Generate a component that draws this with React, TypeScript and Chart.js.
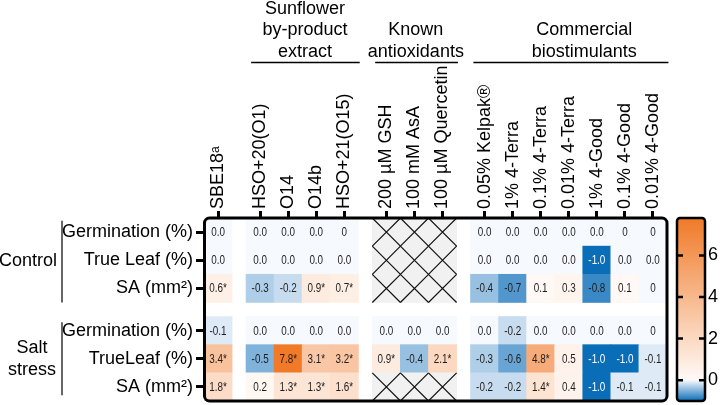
import { useEffect, useRef } from 'react';
import { Chart, registerables } from 'chart.js';

Chart.register(...registerables);

// ---------------- data ----------------
const columnLabels = [
  'SBE18ᵃ', 'HSO+20(O1)', 'O14', 'O14b', 'HSO+21(O15)',
  '200 µM GSH', '100 mM AsA', '100 µM Quercetin',
  '0.05% Kelpak®', '1% 4-Terra', '0.1% 4-Terra', '0.01% 4-Terra', '1% 4-Good', '0.1% 4-Good', '0.01% 4-Good',
];
const columnSlots = [0, 1.5, 2.5, 3.5, 4.5, 6, 7, 8, 9.5, 10.5, 11.5, 12.5, 13.5, 14.5, 15.5];

const rowLabels = ['Germination (%)', 'True Leaf (%)', 'SA (mm²)', 'Germination (%)', 'TrueLeaf (%)', 'SA (mm²)'];
const rowSlots = [0, 1, 2, 3.5, 4.5, 5.5];

// null = not tested (hatched)
const controlGermination = ['0.0', '0.0', '0.0', '0.0', '0', null, null, null, '0.0', '0.0', '0.0', '0.0', '0.0', '0', '0'];
const controlTrueLeaf = ['0.0', '0.0', '0.0', '0.0', '0.0', null, null, null, '0.0', '0.0', '0.0', '0.0', '-1.0', '0.0', '0.0'];
const controlSA = ['0.6*', '-0.3', '-0.2', '0.9*', '0.7*', null, null, null, '-0.4', '-0.7', '0.1', '0.3', '-0.8', '0.1', '0'];
const saltGermination = ['-0.1', '0.0', '0.0', '0.0', '0.0', '0.0', '0.0', '0.0', '0.0', '-0.2', '0.0', '0.0', '0.0', '0.0', '0'];
const saltTrueLeaf = ['3.4*', '-0.5', '7.8*', '3.1*', '3.2*', '0.9*', '-0.4', '2.1*', '-0.3', '-0.6', '4.8*', '0.5', '-1.0', '-1.0', '-0.1'];
const saltSA = ['1.8*', '0.2', '1.3*', '1.3*', '1.6*', null, null, null, '-0.2', '-0.2', '1.4*', '0.4', '-1.0', '-0.1', '-0.1'];
const rowValues = [controlGermination, controlTrueLeaf, controlSA, saltGermination, saltTrueLeaf, saltSA];

const groupTitles = [['Sunflower', 'by-product', 'extract'], ['Known', 'antioxidants'], ['Commercial', 'biostimulants']];
const conditionTitles = [['Control'], ['Salt', 'stress']];

const colorbarTicks = [0, 2, 4, 6];
const colorMin = -1;
const colorMax = 7.8;

// ---------------- layout / style ----------------
const FONT = '"Liberation Sans", Arial, Helvetica, sans-serif';
const CELL_FONT = '"Liberation Sans", Arial, sans-serif';
const CELL_SQUEEZE = 0.76;
const groupCenters = [3.1, 7.05, 13.05];
const groupLines = [[1.18, 5.05], [5.6, 8.55], [9.1, 16.05]];
const conditionSpans = [[-0.4, 2.5], [3.2, 5.8]];

const NEG = [10, 109, 184];
const ZERO = [246, 249, 253];
const POSLOW = [255, 250, 247];
const POS = [240, 122, 40];

function mix(a: number[], b: number[], t: number) {
  const c = a.map((av, i) => Math.round(av + (b[i] - av) * t));
  return `rgb(${c[0]},${c[1]},${c[2]})`;
}
function colorFor(v: number) {
  if (v < 0) return mix(ZERO, NEG, Math.min(1, v / colorMin));
  if (v === 0) return mix(ZERO, ZERO, 0);
  return mix(POSLOW, POS, Math.min(1, v / colorMax));
}

const cellData: any[] = [];
const hatchData: any[] = [];
rowValues.forEach((row, r) =>
  row.forEach((txt, c) => {
    const pt = { x: columnSlots[c], y: rowSlots[r] };
    if (txt == null) hatchData.push(pt);
    else cellData.push({ ...pt, v: parseFloat(txt), t: txt });
  })
);

function cellSize(chart: any) {
  const { x, y } = chart.scales;
  if (!x || !y) return 28;
  const w = Math.abs(x.getPixelForValue(1) - x.getPixelForValue(0));
  const h = Math.abs(y.getPixelForValue(1) - y.getPixelForValue(0));
  return Math.max(w, h);
}
const fillRadius = (ctx: any) => (cellSize(ctx.chart) + 0.7) / Math.SQRT2;
const crossRadius = (ctx: any) => cellSize(ctx.chart) / Math.SQRT2;

const LINE_H = 18 * 1.2;

const extrasPlugin = {
  id: 'heatmapExtras',
  afterDatasetsDraw(chart: any) {
    const { ctx, scales } = chart;
    const { x, y } = scales;
    ctx.save();
    ctx.font = `13px ${CELL_FONT}`;
    ctx.textAlign = 'center';
    ctx.textBaseline = 'middle';
    cellData.forEach((d) => {
      ctx.fillStyle = d.v <= -0.9 ? '#ffffff' : '#1e1e1e';
      const px = x.getPixelForValue(d.x);
      const py = y.getPixelForValue(d.y) + 0.5;
      ctx.save();
      ctx.translate(px, py);
      ctx.scale(CELL_SQUEEZE, 1);
      ctx.fillText(d.t, 0, 0);
      ctx.restore();
    });
    const a = chart.chartArea;
    ctx.lineWidth = 3;
    ctx.strokeStyle = '#000';
    ctx.beginPath();
    ctx.roundRect(a.left + 0.5, a.top, a.right - a.left - 0.5, a.bottom - a.top, 5);
    ctx.stroke();
    ctx.restore();
  },
  afterDraw(chart: any) {
    const { ctx, scales } = chart;
    const { x, y, cbar } = scales;
    ctx.save();
    ctx.fillStyle = '#000';
    ctx.strokeStyle = '#000';
    ctx.font = `18px ${FONT}`;
    ctx.textAlign = 'center';
    ctx.textBaseline = 'middle';
    // group headers
    groupTitles.forEach((lines, g) => {
      const cx = x.getPixelForValue(groupCenters[g]);
      lines.forEach((ln, i) => {
        const yy = 52 - (lines.length - 1 - i) * 21.5;
        ctx.fillText(ln, cx, yy);
      });
      ctx.lineWidth = 1.5;
      ctx.beginPath();
      ctx.moveTo(x.getPixelForValue(groupLines[g][0]), 62.5);
      ctx.lineTo(x.getPixelForValue(groupLines[g][1]), 62.5);
      ctx.stroke();
    });
    // condition labels + brackets
    ctx.lineWidth = 1.5;
    ctx.strokeStyle = '#333';
    conditionSpans.forEach((sp) => {
      ctx.beginPath();
      ctx.moveTo(62, y.getPixelForValue(sp[0]));
      ctx.lineTo(62, y.getPixelForValue(sp[1]));
      ctx.stroke();
    });
    ctx.textAlign = 'right';
    ctx.fillText(conditionTitles[0][0], 57, y.getPixelForValue(1) + 1);
    ctx.textAlign = 'center';
    ctx.fillText(conditionTitles[1][0], 32, y.getPixelForValue(4.5) - 11);
    ctx.fillText(conditionTitles[1][1], 32, y.getPixelForValue(4.5) + 11);

    // colorbar
    const top = cbar.getPixelForValue(colorMax);
    const bottom = cbar.getPixelForValue(colorMin);
    const bx = cbar.left + 10;
    const bw = 28;
    const grad = ctx.createLinearGradient(0, bottom, 0, top);
    const steps = 88;
    for (let i = 0; i <= steps; i++) {
      const v = colorMin + ((colorMax - colorMin) * i) / steps;
      grad.addColorStop(i / steps, colorFor(Math.abs(v) < 1e-9 ? 0 : v));
    }
    ctx.fillStyle = grad;
    ctx.fillRect(bx, top, bw, bottom - top);
    ctx.strokeStyle = '#000';
    ctx.lineWidth = 2.5;
    ctx.beginPath();
    ctx.roundRect(bx, top, bw, bottom - top, 3);
    ctx.stroke();
    ctx.lineWidth = 2.5;
    colorbarTicks.forEach((t) => {
      const ty = cbar.getPixelForValue(t);
      ctx.beginPath();
      ctx.moveTo(bx, ty);
      ctx.lineTo(bx + 6, ty);
      ctx.moveTo(bx + bw - 6, ty);
      ctx.lineTo(bx + bw, ty);
      ctx.stroke();
    });
    ctx.restore();
  },
};

export default function App() {
  const ref = useRef<HTMLCanvasElement>(null);
  useEffect(() => {
    if (!ref.current) return;
    const chart = new Chart(ref.current, {
      type: 'scatter',
      data: {
        datasets: [
          {
            label: 'cells',
            data: cellData,
            pointStyle: 'rect',
            pointRadius: fillRadius,
            pointHoverRadius: fillRadius,
            pointBackgroundColor: (ctx: any) => colorFor(ctx.raw ? ctx.raw.v : 0),
            pointBorderWidth: 0,
            order: 3,
          } as any,
          {
            label: 'not tested',
            data: hatchData,
            pointStyle: 'rect',
            pointRadius: fillRadius,
            pointHoverRadius: fillRadius,
            pointBackgroundColor: '#f1f1f1',
            pointBorderWidth: 0,
            order: 2,
          } as any,
          {
            label: 'hatch',
            data: hatchData,
            pointStyle: 'crossRot',
            pointRadius: crossRadius,
            pointHoverRadius: crossRadius,
            pointBorderColor: '#111',
            pointBorderWidth: 1.2,
            order: 1,
          } as any,
        ],
      },
      options: {
        responsive: false,
        animation: false,
        events: [],
        layout: { padding: { left: 0, top: 0, right: 0, bottom: 4 } },
        plugins: { legend: { display: false }, tooltip: { enabled: false } },
        scales: {
          x: {
            type: 'linear',
            position: 'top',
            min: -0.5,
            max: 16,
            afterBuildTicks: (s: any) => {
              s.ticks = columnSlots.map((v) => ({ value: v }));
            },
            afterFit: (s: any) => {
              s.height = 218;
              s.paddingLeft = 0;
              s.paddingRight = 0;
            },
            border: { display: false },
            grid: { drawOnChartArea: false, drawTicks: true, tickLength: 7, tickWidth: 3, tickColor: '#000' },
            ticks: {
              autoSkip: false,
              minRotation: 90,
              maxRotation: 90,
              padding: 2,
              labelOffset: LINE_H,
              color: '#000',
              font: { family: FONT, size: 18 },
              callback: (v: any) => {
                const i = columnSlots.indexOf(Number(v));
                return i >= 0 ? columnLabels[i] : '';
              },
            },
          },
          y: {
            type: 'linear',
            position: 'left',
            reverse: true,
            min: -0.5,
            max: 6,
            afterBuildTicks: (s: any) => {
              s.ticks = rowSlots.map((v) => ({ value: v }));
            },
            afterFit: (s: any) => {
              s.width = 204;
              s.paddingTop = 0;
              s.paddingBottom = 0;
            },
            border: { display: false },
            grid: { drawOnChartArea: false, drawTicks: true, tickLength: 8, tickWidth: 3, tickColor: '#000' },
            ticks: {
              autoSkip: false,
              padding: 3,
              color: '#000',
              font: { family: FONT, size: 18 },
              callback: (v: any) => {
                const i = rowSlots.indexOf(Number(v));
                return i >= 0 ? rowLabels[i] : '';
              },
            },
          },
          cbar: {
            type: 'linear',
            position: 'right',
            min: colorMin,
            max: colorMax,
            afterBuildTicks: (s: any) => {
              s.ticks = colorbarTicks.map((v) => ({ value: v }));
            },
            afterFit: (s: any) => {
              s.width = 57;
              s.paddingTop = 0;
              s.paddingBottom = 0;
            },
            border: { display: false },
            grid: { display: true, drawOnChartArea: false, drawTicks: true, tickLength: 38, tickColor: 'rgba(0,0,0,0)' },
            ticks: {
              padding: 3,
              color: '#000',
              font: { family: FONT, size: 18 },
              callback: (v: any) => String(v),
            },
          },
        },
      } as any,
      plugins: [extrasPlugin],
    });
    return () => chart.destroy();
  }, []);
  return (
    <div style={{ position: 'fixed', left: 0, top: 0, width: 724, height: 405, background: '#fff' }}>
      <canvas ref={ref} width={724} height={405} style={{ display: 'block', width: 724, height: 405 }} />
    </div>
  );
}
